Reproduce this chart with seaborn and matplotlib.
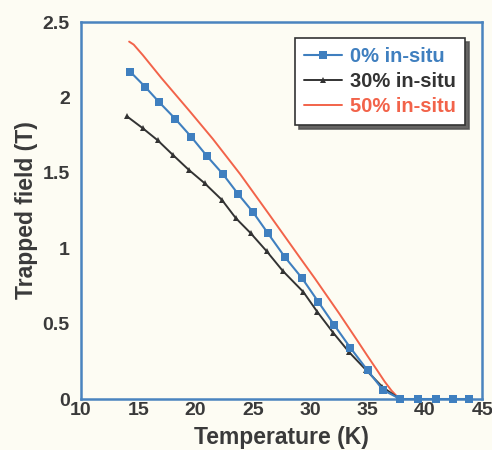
import matplotlib
matplotlib.use("Agg")
import matplotlib.pyplot as plt
import seaborn as sns
import pandas as pd

# ---- data ----
t_0 = [14.3, 15.6, 16.8, 18.2, 19.6, 21.0, 22.4, 23.7, 25.0, 26.3, 27.8, 29.3,
       30.7, 32.1, 33.5, 35.0, 36.35, 37.85, 39.4, 41.0, 42.45, 43.85]
b_0 = [2.17, 2.07, 1.97, 1.86, 1.74, 1.61, 1.49, 1.36, 1.24, 1.10, 0.94, 0.80,
       0.645, 0.49, 0.34, 0.19, 0.06, 0.0, 0.0, 0.0, 0.0, 0.0]

t_30 = [14.0, 15.4, 16.7, 18.0, 19.4, 20.8, 22.3, 23.5, 24.8, 26.2, 27.6, 29.4,
        30.6, 32.0, 33.4, 34.9, 36.3, 37.8]
b_30 = [1.875, 1.795, 1.715, 1.62, 1.52, 1.43, 1.32, 1.20, 1.10, 0.98, 0.85, 0.71,
        0.58, 0.44, 0.31, 0.19, 0.08, 0.0]

t_50 = [14.2, 14.6, 15.4, 17.0, 19.5, 21.5, 23.9, 26.5, 29.1, 30.4, 32.5, 34.0,
        35.0, 35.8, 36.5, 37.1, 37.6, 38.1]
b_50 = [2.37, 2.35, 2.28, 2.13, 1.907, 1.725, 1.49, 1.215, 0.9375, 0.80, 0.57, 0.40,
        0.285, 0.195, 0.115, 0.055, 0.015, 0.0]

labels = ["0% in-situ", "30% in-situ", "50% in-situ"]
x_ticks = [10, 15, 20, 25, 30, 35, 40, 45]
y_ticks = [0, 0.5, 1, 1.5, 2, 2.5]
y_tick_labels = ["0", "0.5", "1", "1.5", "2", "2.5"]

# ---- style ----
sns.set_theme(style="white")
plt.rcParams["font.family"] = ["Liberation Sans", "DejaVu Sans"]
plt.rcParams["font.weight"] = "bold"

bg = "#fdfcf3"
c_blue = "#3f7fbf"
c_black = "#333333"
c_red = "#f2634a"
spine_c = "#4a84bf"
text_c = "#3a3a3a"

fig = plt.figure(figsize=(4.92, 4.50), dpi=100, facecolor=bg)
ax = fig.add_axes([0.1646, 0.1133, 0.8154, 0.8378])
ax.set_facecolor(bg)

d50 = pd.DataFrame({"T": t_50, "B": b_50})
d30 = pd.DataFrame({"T": t_30, "B": b_30})
d0 = pd.DataFrame({"T": t_0, "B": b_0})

sns.lineplot(data=d50, x="T", y="B", ax=ax, color=c_red, lw=1.4,
             label=labels[2], sort=False, clip_on=False, zorder=3)
sns.lineplot(data=d30, x="T", y="B", ax=ax, color=c_black, lw=1.4, marker="^",
             markersize=5, markeredgewidth=0, label=labels[1], sort=False,
             clip_on=False, zorder=4)
sns.lineplot(data=d0, x="T", y="B", ax=ax, color=c_blue, lw=1.5, marker="s",
             markersize=5.5, markeredgewidth=0, label=labels[0], sort=False,
             clip_on=False, zorder=5)

ax.set_xlim(10, 45)
ax.set_ylim(0, 2.5)
ax.set_xticks(x_ticks)
ax.set_yticks(y_ticks)
ax.set_yticklabels(y_tick_labels)
ax.tick_params(length=0, labelsize=14, colors=text_c)
ax.tick_params(axis="x", pad=2)
ax.tick_params(axis="y", pad=8)
for lab in ax.get_xticklabels() + ax.get_yticklabels():
    lab.set_fontweight("bold")

ax.set_xlabel("Temperature (K)", fontsize=16.5, fontweight="bold", color=text_c, labelpad=5)
ax.set_ylabel("Trapped field (T)", fontsize=16.5, fontweight="bold", color=text_c, labelpad=3)

for s in ax.spines.values():
    s.set_color(spine_c)
    s.set_linewidth(1.8)
    s.set_visible(True)

handles, labs = ax.get_legend_handles_labels()
order = [labs.index(l) for l in labels]
leg = ax.legend([handles[i] for i in order], [labs[i] for i in order],
                loc="upper right", bbox_to_anchor=(0.958, 0.958), borderaxespad=0,
                frameon=True, fancybox=False,
                shadow={"color": "#555555", "alpha": 0.9, "ox": 3, "oy": -3},
                edgecolor="#333333", facecolor="white", framealpha=1,
                fontsize=14.5, handlelength=1.9, handletextpad=0.4,
                borderpad=0.45, labelspacing=0.3)
leg.get_frame().set_linewidth(1.2)
for txt, col in zip(leg.get_texts(), [c_blue, c_black, c_red]):
    txt.set_color(col)
    txt.set_fontweight("bold")

fig.savefig("out.png", dpi=100, facecolor=bg)
